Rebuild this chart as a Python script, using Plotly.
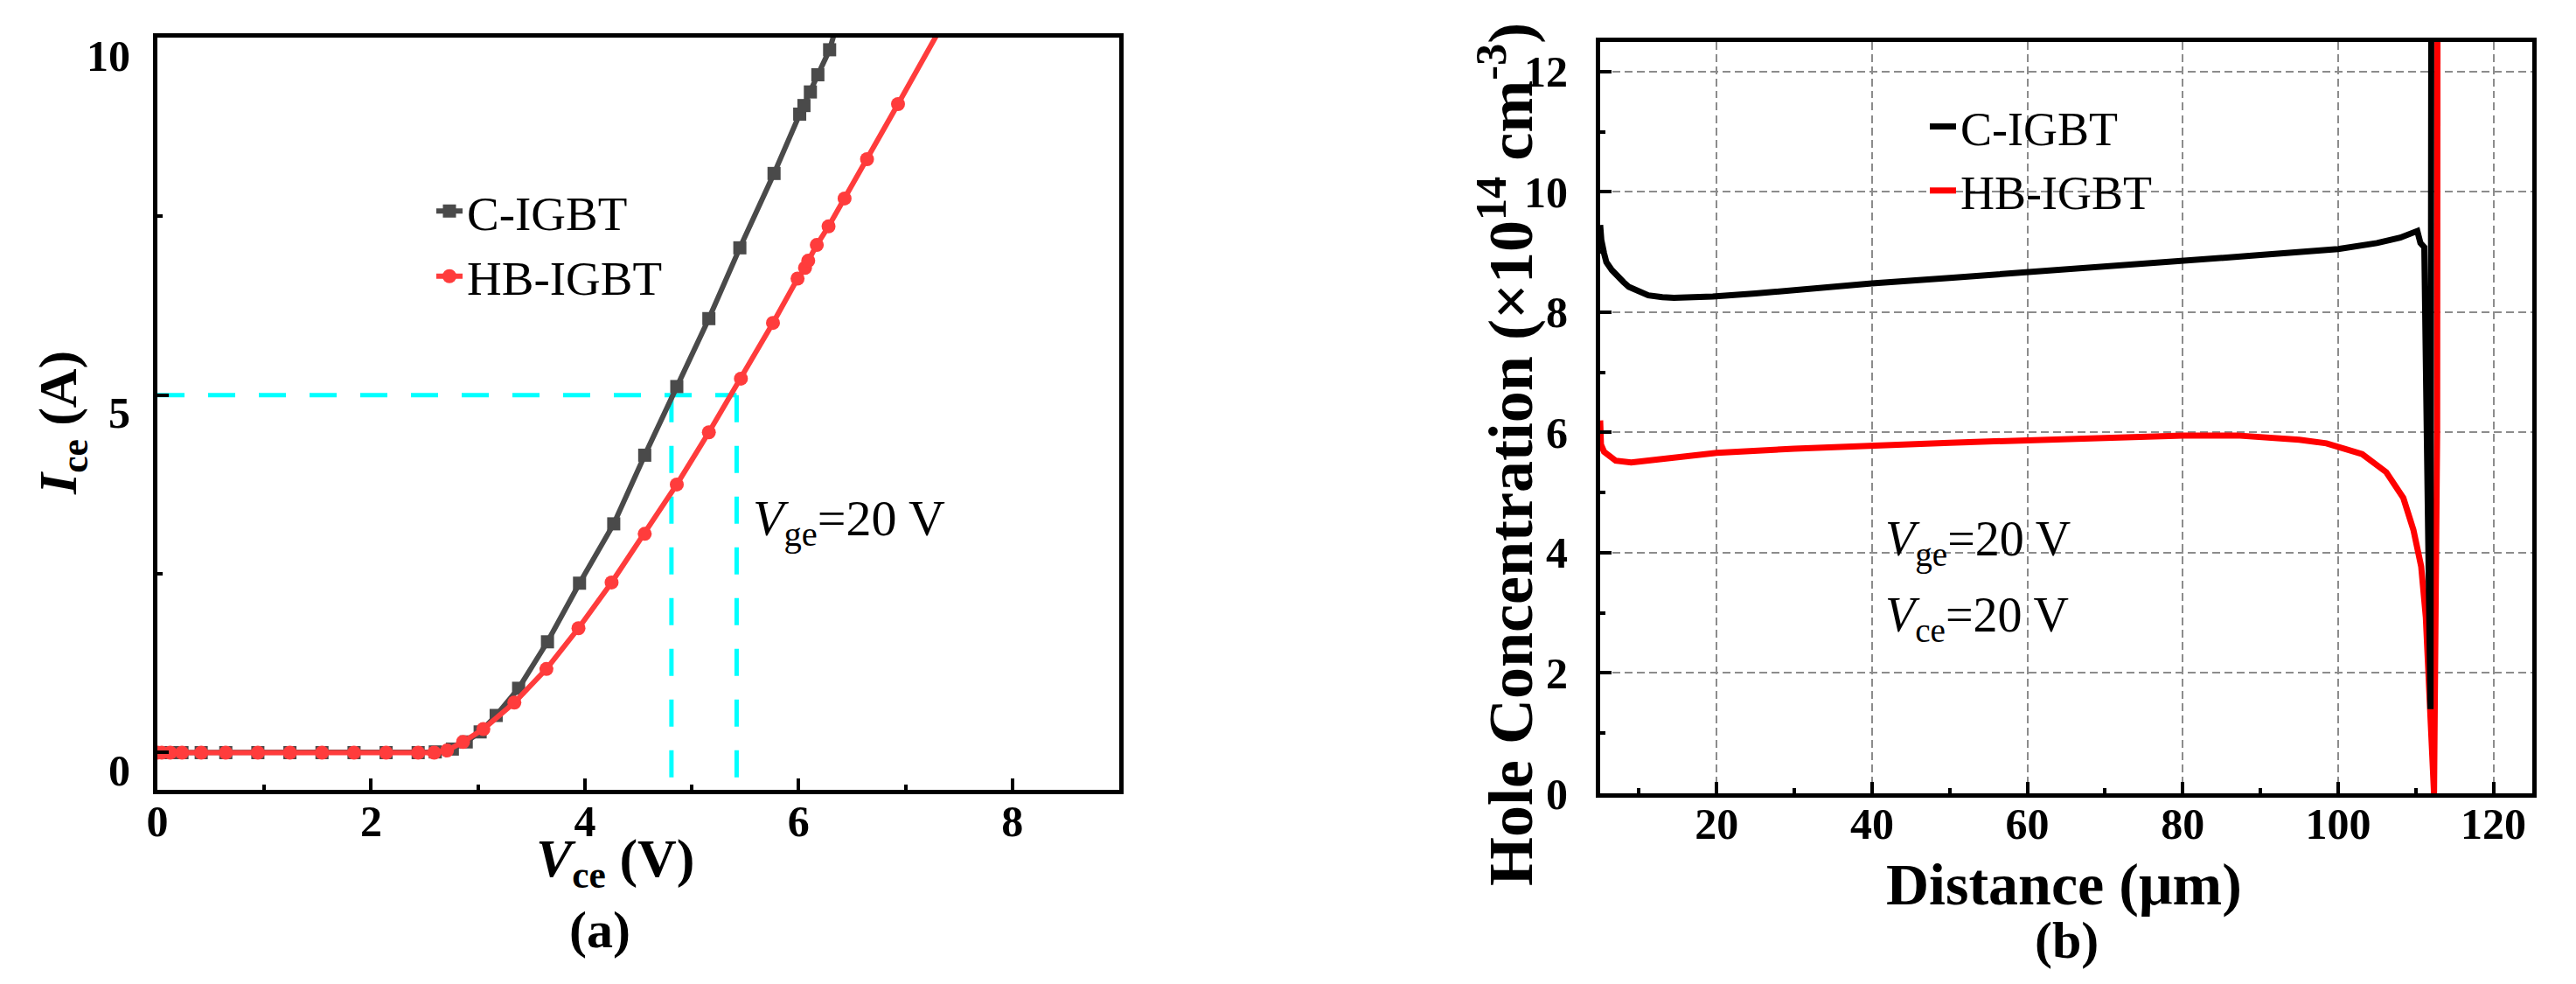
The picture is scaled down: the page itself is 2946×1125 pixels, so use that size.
import plotly.graph_objects as go

# ---------------- Data: panel (a) Ice-Vce ----------------
vce_c = [0, 0.04, 0.12, 0.23, 0.41, 0.64, 0.94, 1.24, 1.54, 1.84, 2.14, 2.44, 2.6,
         2.76, 2.89, 3.02, 3.17, 3.38, 3.65, 3.95, 4.27, 4.56, 4.86, 5.16, 5.45,
         5.77, 6.01, 6.05, 6.11, 6.18, 6.29, 6.40]
ice_c = [0, 0, 0, 0, 0, 0, 0, 0, 0, 0, 0, 0, 0.01,
         0.05, 0.15, 0.29, 0.52, 0.90, 1.55, 2.37, 3.20, 4.16, 5.12, 6.07, 7.06,
         8.10, 8.93, 9.05, 9.24, 9.48, 9.83, 10.40]

vce_hb = [0, 0.04, 0.12, 0.23, 0.41, 0.64, 0.94, 1.24, 1.54, 1.84, 2.14, 2.44, 2.59,
          2.71, 2.86, 3.05, 3.34, 3.64, 3.94, 4.25, 4.56, 4.86, 5.16, 5.46, 5.76,
          5.99, 6.06, 6.09, 6.17, 6.28, 6.43, 6.64, 6.93, 7.50]
ice_hb = [0, 0, 0, 0, 0, 0, 0, 0, 0, 0, 0, 0, 0.0,
          0.03, 0.15, 0.33, 0.70, 1.17, 1.74, 2.38, 3.06, 3.75, 4.48, 5.23, 6.01,
          6.63, 6.78, 6.88, 7.10, 7.36, 7.75, 8.30, 9.07, 10.59]

ref_current = 5.0
ref_vce = [4.81, 5.42]

# ---------------- Data: panel (b) hole concentration ----------------
dist_c = [5.0, 5.15, 5.5, 5.8, 6.5, 7.0, 8.0, 8.7, 10, 11.2, 13, 14.5, 17, 19.5,
          25, 30, 40, 50, 60, 70, 80, 90, 100, 105, 108, 110.2, 110.6, 111.1,
          111.9, 112.0]
hole_c = [9.45, 9.20, 8.98, 8.83, 8.70, 8.62, 8.50, 8.42, 8.34, 8.28, 8.25, 8.24, 8.25, 8.26,
          8.31, 8.37, 8.48, 8.57, 8.66, 8.75, 8.85, 8.95, 9.05, 9.15, 9.24, 9.35, 9.15, 9.08,
          1.40, 13.5]

dist_hb = [5.0, 5.1, 5.5, 7.0, 9.0, 12, 15, 20, 30, 40, 50, 60, 70, 80, 87, 90, 95,
           98.5, 103.1, 106.2, 108.4, 109.7, 110.7, 111.3, 111.6, 112.0, 112.35,
           112.75, 112.8]
hole_hb = [6.20, 5.80, 5.68, 5.53, 5.50, 5.55, 5.60, 5.66, 5.73, 5.79, 5.83, 5.87, 5.91,
           5.95, 5.95, 5.93, 5.88, 5.82, 5.64, 5.34, 4.91, 4.38, 3.77, 2.92, 1.91, 0.91,
           0.0, 6.0, 13.5]

W, H = 2946, 1125
FONT = "Liberation Serif"


def px(x):
    return x / W


def py(y):
    return 1 - y / H


fig = go.Figure()

# reference dashed lines (panel a)
fig.add_trace(go.Scatter(x=[0, ref_vce[1]], y=[ref_current, ref_current], mode="lines",
                         line=dict(color="#00FFFF", width=5, dash="31px,27px"),
                         showlegend=False, xaxis="x", yaxis="y", hoverinfo="skip"))
for v in ref_vce:
    fig.add_trace(go.Scatter(x=[v, v], y=[ref_current, -0.52], mode="lines",
                             line=dict(color="#00FFFF", width=5, dash="31px,27px"),
                             showlegend=False, xaxis="x", yaxis="y", hoverinfo="skip"))

fig.add_trace(go.Scatter(x=vce_c, y=ice_c, mode="lines+markers", name="C-IGBT",
                         line=dict(color="#4A4A4A", width=6),
                         marker=dict(symbol="square", size=15, color="#4A4A4A"),
                         xaxis="x", yaxis="y", legend="legend", legendrank=1))
fig.add_trace(go.Scatter(x=vce_hb, y=ice_hb, mode="lines+markers", name="HB-IGBT",
                         line=dict(color="#FF3C3C", width=6),
                         marker=dict(symbol="circle", size=16, color="#FF3C3C"),
                         xaxis="x", yaxis="y", legend="legend", legendrank=2))

# panel b (red below black)
fig.add_trace(go.Scatter(x=dist_hb, y=hole_hb, mode="lines", name="HB-IGBT",
                         line=dict(color="#FF0000", width=7),
                         xaxis="x2", yaxis="y2", legend="legend2", legendrank=2))
fig.add_trace(go.Scatter(x=dist_c, y=hole_c, mode="lines", name="C-IGBT",
                         line=dict(color="#000000", width=7),
                         xaxis="x2", yaxis="y2", legend="legend2", legendrank=1))

tickfont = dict(family=FONT, size=50, color="black", weight="bold")
common = dict(showline=True, linewidth=5, linecolor="black", mirror=True,
              ticks="inside", ticklen=13, tickwidth=4, tickcolor="black",
              tickfont=tickfont, zeroline=False, automargin=False)

fig.update_layout(
    width=W, height=H, autosize=False,
    margin=dict(l=0, r=0, t=0, b=0, pad=0),
    paper_bgcolor="white", plot_bgcolor="white",
    xaxis=dict(domain=[px(180), px(1280)], range=[0, 9], dtick=2, tick0=0,
               showgrid=False, ticklabelstandoff=-12,
               minor=dict(ticks="inside", ticklen=6, tickwidth=4, dtick=1, tickcolor="black",
                          showgrid=False),
               anchor="y", **common),
    yaxis=dict(domain=[py(903), py(43)], range=[-0.52, 10], dtick=5, tick0=0,
               showgrid=False, ticklabelstandoff=16, ticklabelshift=20,
               minor=dict(ticks="inside", ticklen=6, tickwidth=4, dtick=2.5, tickcolor="black",
                          showgrid=False),
               anchor="x", **common),
    xaxis2=dict(domain=[px(1830), px(2896)], range=[5, 125], dtick=20, tick0=0,
                showgrid=True, gridcolor="#8c8c8c", gridwidth=2, griddash="9px,5px",
                ticklabelstandoff=-13,
                minor=dict(ticks="inside", ticklen=6, tickwidth=4, dtick=10, tickcolor="black",
                           showgrid=False),
                anchor="y2", **common),
    yaxis2=dict(domain=[py(907), py(47.5)], range=[0, 12.5], dtick=2, tick0=0,
                showgrid=True, gridcolor="#8c8c8c", gridwidth=2, griddash="9px,5px",
                ticklabelstandoff=22,
                minor=dict(ticks="inside", ticklen=6, tickwidth=4, dtick=1, tickcolor="black",
                           showgrid=False),
                anchor="x2", **common),
    legend=dict(x=px(494), y=py(199), xanchor="left", yanchor="top",
                bgcolor="rgba(0,0,0,0)", font=dict(family=FONT, size=55, color="black"),
                tracegroupgap=0),
    legend2=dict(x=px(2202), y=py(103), xanchor="left", yanchor="top",
                 bgcolor="rgba(0,0,0,0)", font=dict(family=FONT, size=54, color="black"),
                 tracegroupgap=0),
)

ann_font = dict(family=FONT, color="black")
annotations = [
    dict(x=px(70), y=py(484), text="<b><i>I</i><sub>ce</sub> (A)</b>", textangle=-90,
         font=dict(size=62, **ann_font)),
    dict(x=px(703), y=py(985), text="<b><i>V</i><sub>ce</sub> (V)</b>",
         font=dict(size=62, **ann_font)),
    dict(x=px(686), y=py(1063), text="<b>(a)</b>", font=dict(size=60, **ann_font)),
    dict(x=px(859), y=py(596), xanchor="left", text="<i>V</i><sub>ge</sub>=20 V",
         font=dict(size=58, **ann_font)),
    dict(x=px(1722), y=py(519),
         text="<b>Hole Concentration (×10<sup>14</sup> cm<sup>-3</sup>)</b>", textangle=-90,
         font=dict(size=72, **ann_font)),
    dict(x=px(2360), y=py(1011), text="<b>Distance (μm)</b>", font=dict(size=68, **ann_font)),
    dict(x=px(2363), y=py(1075), text="<b>(b)</b>", font=dict(size=60, **ann_font)),
    dict(x=px(2154), y=py(620), xanchor="left", text="<i>V</i><sub>ge</sub>=20 V",
         font=dict(size=56, **ann_font)),
    dict(x=px(2154), y=py(707), xanchor="left", text="<i>V</i><sub>ce</sub>=20 V",
         font=dict(size=56, **ann_font)),
]
for a in annotations:
    a.setdefault("xanchor", "center")
    a.setdefault("yanchor", "middle")
    a.update(xref="paper", yref="paper", showarrow=False)
fig.update_layout(annotations=annotations)

fig.write_html("out.html", config={"displayModeBar": False},
               post_script="document.body.style.margin='0';document.body.style.overflow='hidden';")
